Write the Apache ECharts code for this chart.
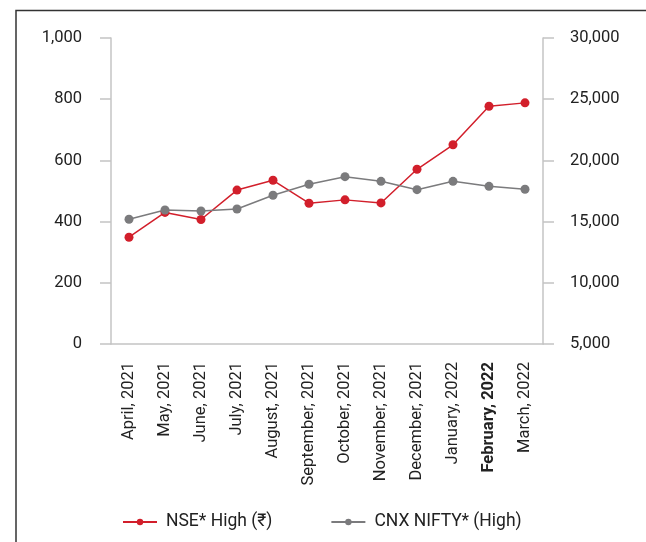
<!DOCTYPE html>
<html>
<head>
<meta charset="utf-8">
<script src="https://cdn.jsdelivr.net/npm/echarts@6/dist/echarts.min.js"></script>
<style>html,body{margin:0;padding:0;background:#fff}#c{width:646px;height:542px}</style>
</head>
<body>
<div id="c"></div>
<script>
const categories = ['April, 2021','May, 2021','June, 2021','July, 2021','August, 2021','September, 2021','October, 2021','November, 2021','December, 2021','January, 2022','February, 2022','March, 2022'];
const nseHigh = [349, 430, 407, 503, 535, 460, 471, 461, 571, 651, 777, 788];
const niftyHigh = [15190, 15950, 15870, 16030, 17150, 18050, 18670, 18290, 17610, 18290, 17880, 17640];
const leftTicks = [0, 200, 400, 600, 800, 1000];
const rightTicks = [5000, 10000, 15000, 20000, 25000, 30000];

const FONT = 'Roboto, "Noto Sans", sans-serif';
const chart = echarts.init(document.getElementById('c'));
const axisGray = '#c4c4c4';
chart.setOption({
  animation: false,
  textStyle: { fontFamily: FONT },
  graphic: [{
    type: 'polyline',
    shape: { points: [[16, 600], [16, 10.5], [700, 10.5]] },
    style: { stroke: '#333', lineWidth: 1.5, fill: null }
  }],
  grid: { left: 111, right: 103, top: 38, bottom: 198 },
  legend: {
    left: 117, top: 508,
    itemWidth: 34, itemHeight: 8, itemGap: 58,
    textStyle: { fontSize: 17.5, color: '#222', fontFamily: FONT, padding: [0, 0, 0, 4] },
    data: [{ name: 'NSE* High (₹)' }, { name: 'CNX NIFTY* (High)' }]
  },
  xAxis: {
    type: 'category',
    data: categories.map(c => c === 'February, 2022' ? { value: c, textStyle: { fontWeight: 'bold' } } : c),
    axisLine: { lineStyle: { color: axisGray, width: 1.5 } },
    axisTick: { length: 8, lineStyle: { color: axisGray, width: 1.5 } },
    axisLabel: { rotate: 90, margin: 18, fontSize: 16.5, color: '#222', fontFamily: FONT, interval: 0 }
  },
  yAxis: [{
    type: 'value', min: leftTicks[0], max: leftTicks[leftTicks.length - 1], interval: 200,
    axisLine: { show: true, lineStyle: { color: axisGray, width: 1.5 } },
    axisTick: { show: true, length: 11, lineStyle: { color: axisGray, width: 1.5 } },
    splitLine: { show: false },
    axisLabel: { margin: 29, fontSize: 16.5, color: '#222', fontFamily: FONT,
      formatter: v => v.toLocaleString('en-US') }
  }, {
    type: 'value', position: 'right', min: rightTicks[0], max: rightTicks[rightTicks.length - 1], interval: 5000,
    axisLine: { show: true, lineStyle: { color: axisGray, width: 1.5 } },
    axisTick: { show: true, length: 11, lineStyle: { color: axisGray, width: 1.5 } },
    splitLine: { show: false },
    axisLabel: { margin: 27, fontSize: 16.5, color: '#222', fontFamily: FONT,
      formatter: v => v.toLocaleString('en-US') }
  }],
  series: [{
    name: 'NSE* High (₹)', type: 'line', yAxisIndex: 0, data: nseHigh,
    symbol: 'circle', symbolSize: 9,
    itemStyle: { color: '#d21f2b' }, lineStyle: { color: '#d21f2b', width: 1.5 }
  }, {
    name: 'CNX NIFTY* (High)', type: 'line', yAxisIndex: 1, data: niftyHigh,
    symbol: 'circle', symbolSize: 9,
    itemStyle: { color: '#7b7b7d' }, lineStyle: { color: '#7b7b7d', width: 1.5 }
  }]
});
</script>
</body>
</html>
